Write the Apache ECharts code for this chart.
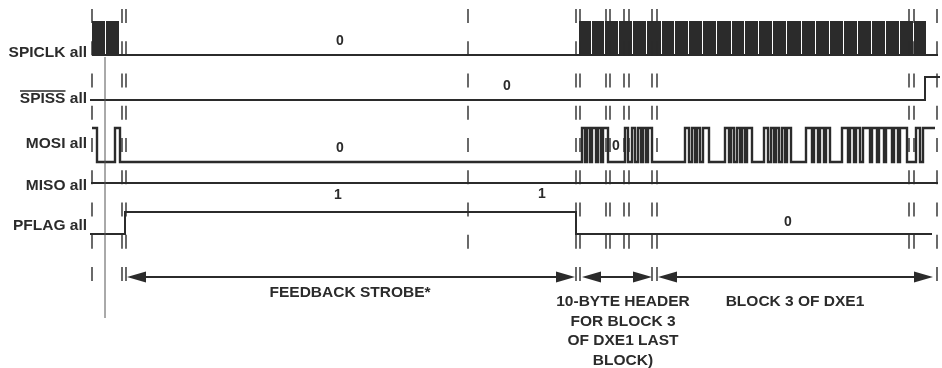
<!DOCTYPE html>
<html>
<head>
<meta charset="utf-8">
<script src="https://cdn.jsdelivr.net/npm/echarts@6/dist/echarts.min.js"></script>
<style>
html, body { margin: 0; padding: 0; background: #fff; }
#chart { width: 942px; height: 368px; }
</style>
</head>
<body>
<div id="chart"></div>
<script>
// signal names, one lane each
const signalNames = ['SPICLK all', 'SPISS all', 'MOSI all', 'MISO all', 'PFLAG all'];

// SPICLK byte bursts [start, end]
const clkBytes = [
  [92, 106], [106, 120],
  [579, 592], [592, 605], [605, 619], [619, 633], [633, 647], [647, 662], [662, 675],
  [675, 689], [689, 703], [703, 717], [717, 732], [732, 745], [745, 759], [759, 773],
  [773, 787], [787, 802], [802, 816], [816, 830], [830, 844], [844, 858], [858, 872],
  [872, 886], [886, 900], [900, 914], [914, 927]
];
const clkIdle = { start: 92, level: 0, toggles: [], end: 938 };

// waveforms: start time, start level, toggle times, end time
const spissWave = { start: 90, level: 0, toggles: [925], end: 940 };
const mosiWave = {
  start: 92, level: 1,
  toggles: [97, 115, 120,
    582, 585, 587, 590, 592, 596, 598, 601, 603, 608,
    625, 628, 632, 635, 638, 641, 643, 646, 648, 652,
    685, 689, 692, 695, 697, 700, 703, 709,
    725, 729, 731, 734, 737, 740, 742, 745, 747, 752,
    764, 768, 771, 774, 776, 779, 782, 785, 787, 791,
    806, 812, 814, 818, 820, 824, 826, 830,
    842, 848, 850, 854, 856, 860, 863, 870, 872, 877, 879, 884, 886, 892, 894, 898, 900, 907,
    916, 920, 923],
  end: 935
};
const misoWave = { start: 91, level: 0, toggles: [], end: 938 };
const pflagWave = { start: 90, level: 0, toggles: [125, 576], end: 932 };

// level labels written on the lanes
const levelTexts = ['0', '0', '0', '0', '1', '1', '0'];

// break marks: time, whether they run down through the arrow row
const breakTimes = [92, 122, 126, 468, 576, 580, 606, 610, 624, 629, 652, 657, 909, 914, 937];
const breakLong = [1, 1, 1, 0, 1, 1, 0, 0, 0, 0, 1, 1, 0, 0, 1];

// span arrows [from, to] and their captions
const spans = [[127, 575], [582, 652], [658, 933]];
const spanTexts = ['FEEDBACK STROBE*', '10-BYTE HEADER\nFOR BLOCK 3\nOF DXE1 LAST\nBLOCK)', 'BLOCK 3 OF DXE1'];

// trigger marker time
const markerTime = 105;

// ---- layout ----
const laneLow = [55, 100, 162, 183, 234];
const laneSwing = [34, 23, 34, 0, 22];
const levelPos = [[340, 41], [507, 86], [340, 148], [616, 146], [542, 194], [338, 195], [788, 222]];
const spanY = 277;
const spanTextPos = [[350, 293, 'middle'], [623, 292, 'top'], [795, 302, 'middle']];
const ink = '#2b2b2b';
const font = 'bold 15.5px "Liberation Sans", Arial, sans-serif';
const fontVal = 'bold 14px "Liberation Sans", Arial, sans-serif';

function levelY(lane, lv) {
  return laneLow[lane] - lv * laneSwing[lane];
}

function wave(lane, w) {
  let lv = w.level;
  const pts = [[w.start, levelY(lane, lv)]];
  w.toggles.forEach(function (t) {
    pts.push([t, levelY(lane, lv)]);
    lv = 1 - lv;
    pts.push([t, levelY(lane, lv)]);
  });
  pts.push([w.end, levelY(lane, lv)]);
  return pts;
}

// each waveform drawn as one polyline through the axes
function waveSeries(lane, w, width) {
  const pts = wave(lane, w);
  return {
    type: 'custom',
    data: pts,
    encode: { x: 0, y: 1 },
    silent: true,
    z: 3,
    renderItem: function (params, api) {
      if (params.dataIndex !== 0) return null;
      return {
        type: 'polyline',
        shape: { points: pts.map(function (p) { return api.coord(p); }) },
        style: { stroke: ink, lineWidth: width || 2, fill: null, lineJoin: 'miter' }
      };
    }
  };
}

const chart = echarts.init(document.getElementById('chart'));

const graphics = [];
signalNames.forEach(function (name, i) {
  const cy = [53, 99, 144, 186, 226][i];
  graphics.push({
    type: 'text', x: 87, y: cy,
    style: { text: name, font: font, fill: ink, align: 'right', verticalAlign: 'middle' }
  });
});
// overline on SPISS
graphics.push({
  type: 'line',
  shape: { x1: 20, y1: 91, x2: 65.5, y2: 91 },
  style: { stroke: ink, lineWidth: 1.5 }
});
levelTexts.forEach(function (t, i) {
  graphics.push({
    type: 'text', x: levelPos[i][0], y: levelPos[i][1],
    style: { text: t, font: fontVal, fill: ink, align: 'center', verticalAlign: 'middle' }
  });
});
spanTexts.forEach(function (t, i) {
  graphics.push({
    type: 'text', x: spanTextPos[i][0], y: spanTextPos[i][1],
    style: {
      text: t, font: font, fill: ink, align: 'center',
      verticalAlign: spanTextPos[i][2], lineHeight: 19.5
    }
  });
});

const option = {
  animation: false,
  grid: { left: 0, right: 0, top: 0, bottom: 0 },
  xAxis: { type: 'value', min: 0, max: 942, show: false },
  yAxis: { type: 'value', min: 0, max: 368, inverse: true, show: false },
  graphic: graphics,
  series: [
    waveSeries(0, clkIdle),
    {
      type: 'custom',
      data: clkBytes,
      encode: { x: [0, 1] },
      silent: true,
      z: 4,
      renderItem: function (params, api) {
        const p0 = api.coord([api.value(0), levelY(0, 1)]);
        const p1 = api.coord([api.value(1), levelY(0, 0)]);
        return {
          type: 'rect',
          shape: { x: p0[0], y: p0[1], width: p1[0] - p0[0] - 1, height: p1[1] - p0[1] + 1 },
          style: { fill: ink }
        };
      }
    },
    waveSeries(1, spissWave),
    waveSeries(2, mosiWave, 2.4),
    waveSeries(3, misoWave),
    waveSeries(4, pflagWave),
    {
      type: 'line',
      data: [[markerTime, 57], [markerTime, 318]],
      showSymbol: false,
      silent: true,
      lineStyle: { color: '#555', width: 1 },
      z: 5
    },
    {
      type: 'custom',
      data: breakTimes.map(function (t, i) { return [t, breakLong[i]]; }),
      encode: { x: 0 },
      silent: true,
      z: 6,
      renderItem: function (params, api) {
        const yEnd = api.value(1) ? 282 : 249;
        const a = api.coord([api.value(0), 9]);
        const b = api.coord([api.value(0), yEnd]);
        return {
          type: 'line',
          shape: { x1: a[0], y1: a[1], x2: b[0], y2: b[1] },
          style: { stroke: ink, lineWidth: 1.4, lineDash: [14, 18.25] }
        };
      }
    },
    {
      type: 'custom',
      data: spans,
      encode: { x: [0, 1] },
      silent: true,
      z: 6,
      renderItem: function (params, api) {
        const a = api.coord([api.value(0), spanY]);
        const b = api.coord([api.value(1), spanY]);
        const L = 19, H = 5.5;
        return {
          type: 'group',
          children: [
            { type: 'line', shape: { x1: a[0] + 4, y1: a[1], x2: b[0] - 4, y2: b[1] },
              style: { stroke: ink, lineWidth: 2 } },
            { type: 'polygon', shape: { points: [[a[0], a[1]], [a[0] + L, a[1] - H], [a[0] + L, a[1] + H]] },
              style: { fill: ink } },
            { type: 'polygon', shape: { points: [[b[0], b[1]], [b[0] - L, b[1] - H], [b[0] - L, b[1] + H]] },
              style: { fill: ink } }
          ]
        };
      }
    }
  ]
};

chart.setOption(option);
window.onresize = function () { chart.resize(); };
</script>
</body>
</html>
